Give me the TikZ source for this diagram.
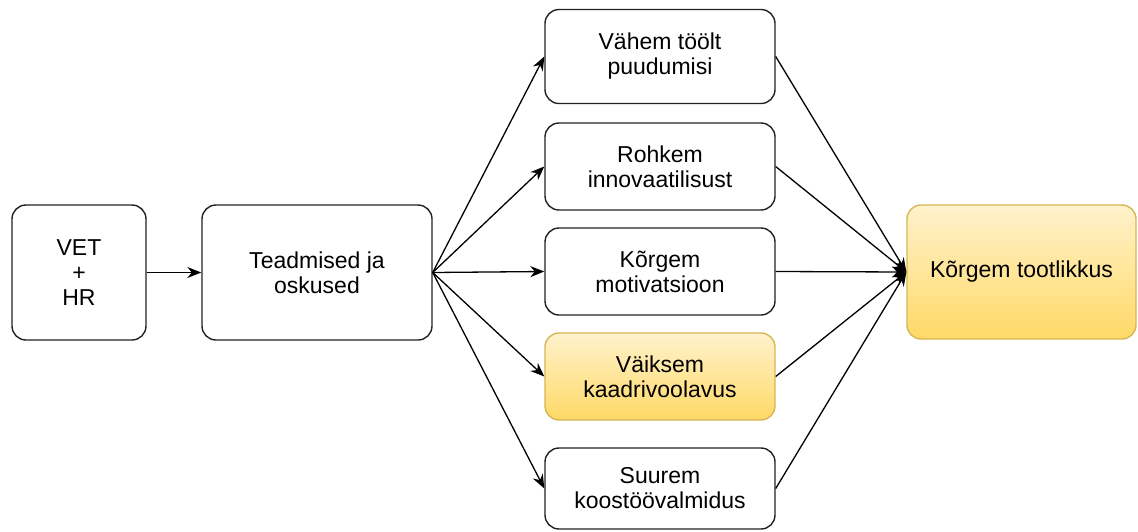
\documentclass[tikz,border=0pt]{standalone}
\usepackage{fontspec}
\setmainfont{Liberation Sans}
\usetikzlibrary{arrows.meta}
\definecolor{ytop}{HTML}{FFF2CC}
\definecolor{ybot}{HTML}{FFD966}
\definecolor{yline}{HTML}{D6B656}
\definecolor{bline}{HTML}{222222}
\tikzset{
  box/.style={draw=bline, line width=1.4pt, rounded corners=14pt, fill=white,
    align=center, inner sep=0pt, font=\fontsize{23}{25}\selectfont},
  ybox/.style={box, draw=yline, top color=ytop, bottom color=ybot},
  conn/.style={line width=1.3pt, draw=black, -{Stealth[length=14pt,width=11pt]}},
}
\begin{document}
\begin{tikzpicture}[x=1pt,y=-1pt]
\useasboundingbox (0,0) rectangle (1138,531);
\node[box, minimum width=134pt, minimum height=135pt] (vet) at (79,272.5) {VET\\+\\HR};
\node[box, minimum width=230pt, minimum height=135pt] (know) at (317,272.5) {Teadmised ja\\oskused};
\node[box, minimum width=230pt, minimum height=94pt] (b1) at (660,56.5) {Vähem töölt\\puudumisi};
\node[box, minimum width=230pt, minimum height=87pt] (b2) at (660,166.5) {Rohkem\\innovaatilisust};
\node[box, minimum width=230pt, minimum height=87pt] (b3) at (660,271.5) {Kõrgem\\motivatsioon};
\node[ybox, minimum width=230pt, minimum height=87pt] (b4) at (660,376.5) {Väiksem\\kaadrivoolavus};
\node[box, minimum width=230pt, minimum height=81pt] (b5) at (660,488.5) {Suurem\\koostöövalmidus};
\node[ybox, minimum width=229pt, minimum height=134pt] (res) at (1021.5,272) {Kõrgem tootlikkus};
\draw[conn] (vet) -- (know);
\foreach \b in {b1,b2,b3,b4,b5}{
  \draw[conn] (know.east) -- (\b.west);
  \draw[conn] (\b.east) -- (res.west);
}
\end{tikzpicture}
\end{document}
